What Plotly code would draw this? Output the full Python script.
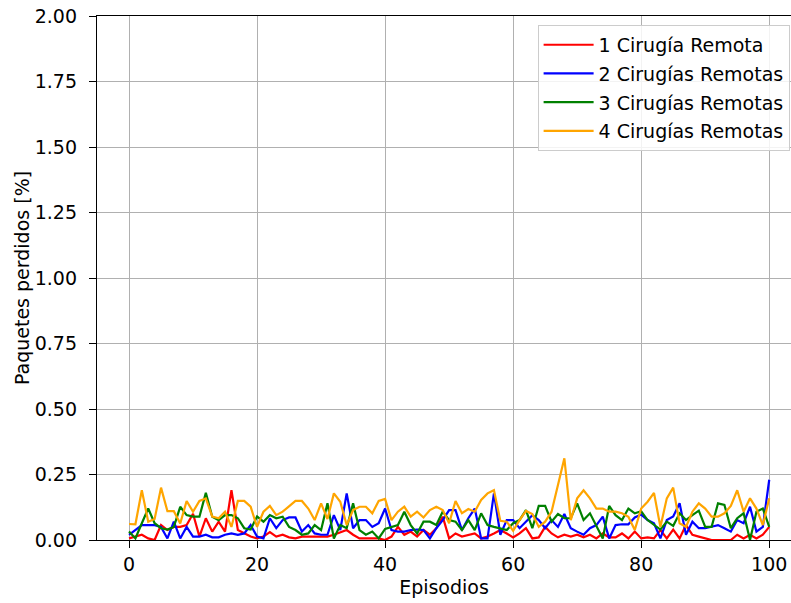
import plotly.graph_objects as go

episodes = list(range(101))

red = [0.006, 0.013, 0.02, 0.006, 0.0, 0.057, 0.038, 0.05, 0.05, 0.057, 0.10, 0.013, 0.083, 0.032, 0.07, 0.032, 0.19, 0.038, 0.025, 0.013, 0.006,
       0.013, 0.03, 0.013, 0.02, 0.01, 0.006, 0.013, 0.013, 0.013, 0.013, 0.013, 0.02, 0.03, 0.038, 0.02, 0.006, 0.006, 0.006, 0.006, 0.0,
       0.013, 0.05, 0.02, 0.032, 0.013, 0.038, 0.02, 0.045, 0.089, 0.006, 0.025, 0.013, 0.02, 0.025, 0.006, 0.013, 0.025, 0.038, 0.025, 0.01,
       0.025, 0.045, 0.006, 0.01, 0.05, 0.025, 0.01, 0.02, 0.013, 0.02, 0.01, 0.02, 0.006, 0.025, 0.01, 0.01, 0.025, 0.006, 0.032, 0.006,
       0.01, 0.006, 0.038, 0.006, 0.04, 0.006, 0.057, 0.02, 0.013, 0.006, 0.0, 0.0, 0.0, 0.0, 0.02, 0.006, 0.02, 0.006, 0.02, 0.05]

blue = [0.02, 0.038, 0.057, 0.057, 0.057, 0.05, 0.006, 0.07, 0.006, 0.05, 0.013, 0.013, 0.02, 0.01, 0.01, 0.02, 0.025, 0.02, 0.025, 0.057, 0.013,
        0.006, 0.083, 0.045, 0.076, 0.086, 0.086, 0.032, 0.057, 0.025, 0.02, 0.02, 0.095, 0.038, 0.178, 0.045, 0.076, 0.076, 0.05, 0.064, 0.12,
        0.038, 0.032, 0.032, 0.038, 0.04, 0.038, 0.006, 0.045, 0.076, 0.114, 0.114, 0.038, 0.083, 0.12, 0.006, 0.006, 0.178, 0.02, 0.076, 0.076,
        0.045, 0.07, 0.095, 0.076, 0.045, 0.076, 0.05, 0.099, 0.045, 0.032, 0.02, 0.045, 0.057, 0.089, 0.006, 0.057, 0.06, 0.06, 0.086, 0.097,
        0.076, 0.064, 0.006, 0.076, 0.09, 0.14, 0.02, 0.07, 0.045, 0.045, 0.05, 0.057, 0.045, 0.032, 0.076, 0.064, 0.127, 0.032, 0.05, 0.23]

green = [0.032, 0.006, 0.064, 0.12, 0.064, 0.045, 0.04, 0.05, 0.127, 0.095, 0.089, 0.089, 0.18, 0.089, 0.076, 0.095, 0.095, 0.083, 0.045, 0.04, 0.09,
         0.07, 0.095, 0.083, 0.089, 0.05, 0.038, 0.02, 0.025, 0.057, 0.038, 0.14, 0.006, 0.057, 0.045, 0.14, 0.038, 0.02, 0.032, 0.006, 0.042,
         0.05, 0.057, 0.108, 0.057, 0.025, 0.07, 0.07, 0.057, 0.108, 0.076, 0.07, 0.038, 0.076, 0.038, 0.102, 0.057, 0.05, 0.045, 0.038, 0.064,
         0.076, 0.114, 0.045, 0.13, 0.13, 0.07, 0.099, 0.083, 0.083, 0.14, 0.076, 0.102, 0.057, 0.006, 0.13, 0.095, 0.076, 0.12, 0.102, 0.11,
         0.076, 0.057, 0.04, 0.07, 0.054, 0.102, 0.076, 0.095, 0.112, 0.05, 0.05, 0.14, 0.134, 0.045, 0.083, 0.102, 0.0, 0.108, 0.12, 0.05]

orange = [0.061, 0.06, 0.19, 0.07, 0.08, 0.20, 0.11, 0.11, 0.063, 0.149, 0.108, 0.149, 0.159, 0.089, 0.083, 0.108, 0.05, 0.149, 0.149, 0.127, 0.05,
          0.108, 0.13, 0.095, 0.108, 0.127, 0.149, 0.149, 0.12, 0.076, 0.14, 0.08, 0.178, 0.146, 0.057, 0.114, 0.127, 0.127, 0.102, 0.149, 0.157,
          0.076, 0.108, 0.127, 0.089, 0.108, 0.086, 0.114, 0.127, 0.114, 0.064, 0.149, 0.102, 0.118, 0.108, 0.153, 0.178, 0.19, 0.073, 0.07, 0.035,
          0.076, 0.111, 0.099, 0.05, 0.07, 0.108, 0.21, 0.312, 0.076, 0.159, 0.19, 0.159, 0.12, 0.12, 0.108, 0.108, 0.102, 0.089, 0.038, 0.12,
          0.146, 0.18, 0.05, 0.159, 0.20, 0.064, 0.05, 0.108, 0.14, 0.12, 0.089, 0.089, 0.102, 0.13, 0.19, 0.108, 0.159, 0.12, 0.057, 0.159]

names = ["1 Cirugía Remota", "2 Cirugías Remotas", "3 Cirugías Remotas", "4 Cirugías Remotas"]
series = [red, blue, green, orange]
colors = ["#ff0000", "#0000ff", "#008000", "#ffa500"]

x_ticks = [0, 20, 40, 60, 80, 100]
y_ticks = [0.0, 0.25, 0.5, 0.75, 1.0, 1.25, 1.5, 1.75, 2.0]

fig = go.Figure()
for i, (nm, ys, c) in enumerate(zip(names, series, colors)):
    fig.add_trace(go.Scatter(x=episodes, y=ys, mode="lines", name=nm,
                             legendgroup=str(i),
                             line=dict(color=c, width=2.2)))

font_family = "DejaVu Sans"
fs = 19
fig.update_layout(
    width=791, height=603,
    margin=dict(l=97, r=0, t=16, b=63),
    paper_bgcolor="white", plot_bgcolor="white",
    font=dict(family=font_family, size=fs, color="black"),
    showlegend=True,
    legend=dict(x=0.998, y=0.983, xanchor="right", yanchor="top",
                bgcolor="rgba(255,255,255,0.85)", bordercolor="#cccccc", borderwidth=1,
                font=dict(family=font_family, size=fs, color="black"),
                traceorder="grouped", tracegroupgap=1, itemwidth=50),
    xaxis=dict(range=[-5, 103.4], tickvals=x_ticks, ticktext=[str(v) for v in x_ticks],
               showgrid=True, gridcolor="#b0b0b0", gridwidth=1,
               showline=True, linecolor="black", linewidth=1.3, mirror=True,
               ticks="outside", ticklen=7, tickcolor="black",
               zeroline=False,
               title=dict(text="Episodios", font=dict(size=fs), standoff=6),
               tickfont=dict(size=fs)),
    yaxis=dict(range=[0, 2.0], tickvals=y_ticks,
               ticktext=[f"{v:.2f}" for v in y_ticks],
               showgrid=True, gridcolor="#b0b0b0", gridwidth=1,
               showline=True, linecolor="black", linewidth=1.3,
               ticks="outside", ticklen=7, tickcolor="black",
               ticklabelstandoff=8,
               zeroline=False,
               title=dict(text="Paquetes perdidos [%]", font=dict(size=fs), standoff=0),
               tickfont=dict(size=fs)),
)

fig.write_html("out.html")
